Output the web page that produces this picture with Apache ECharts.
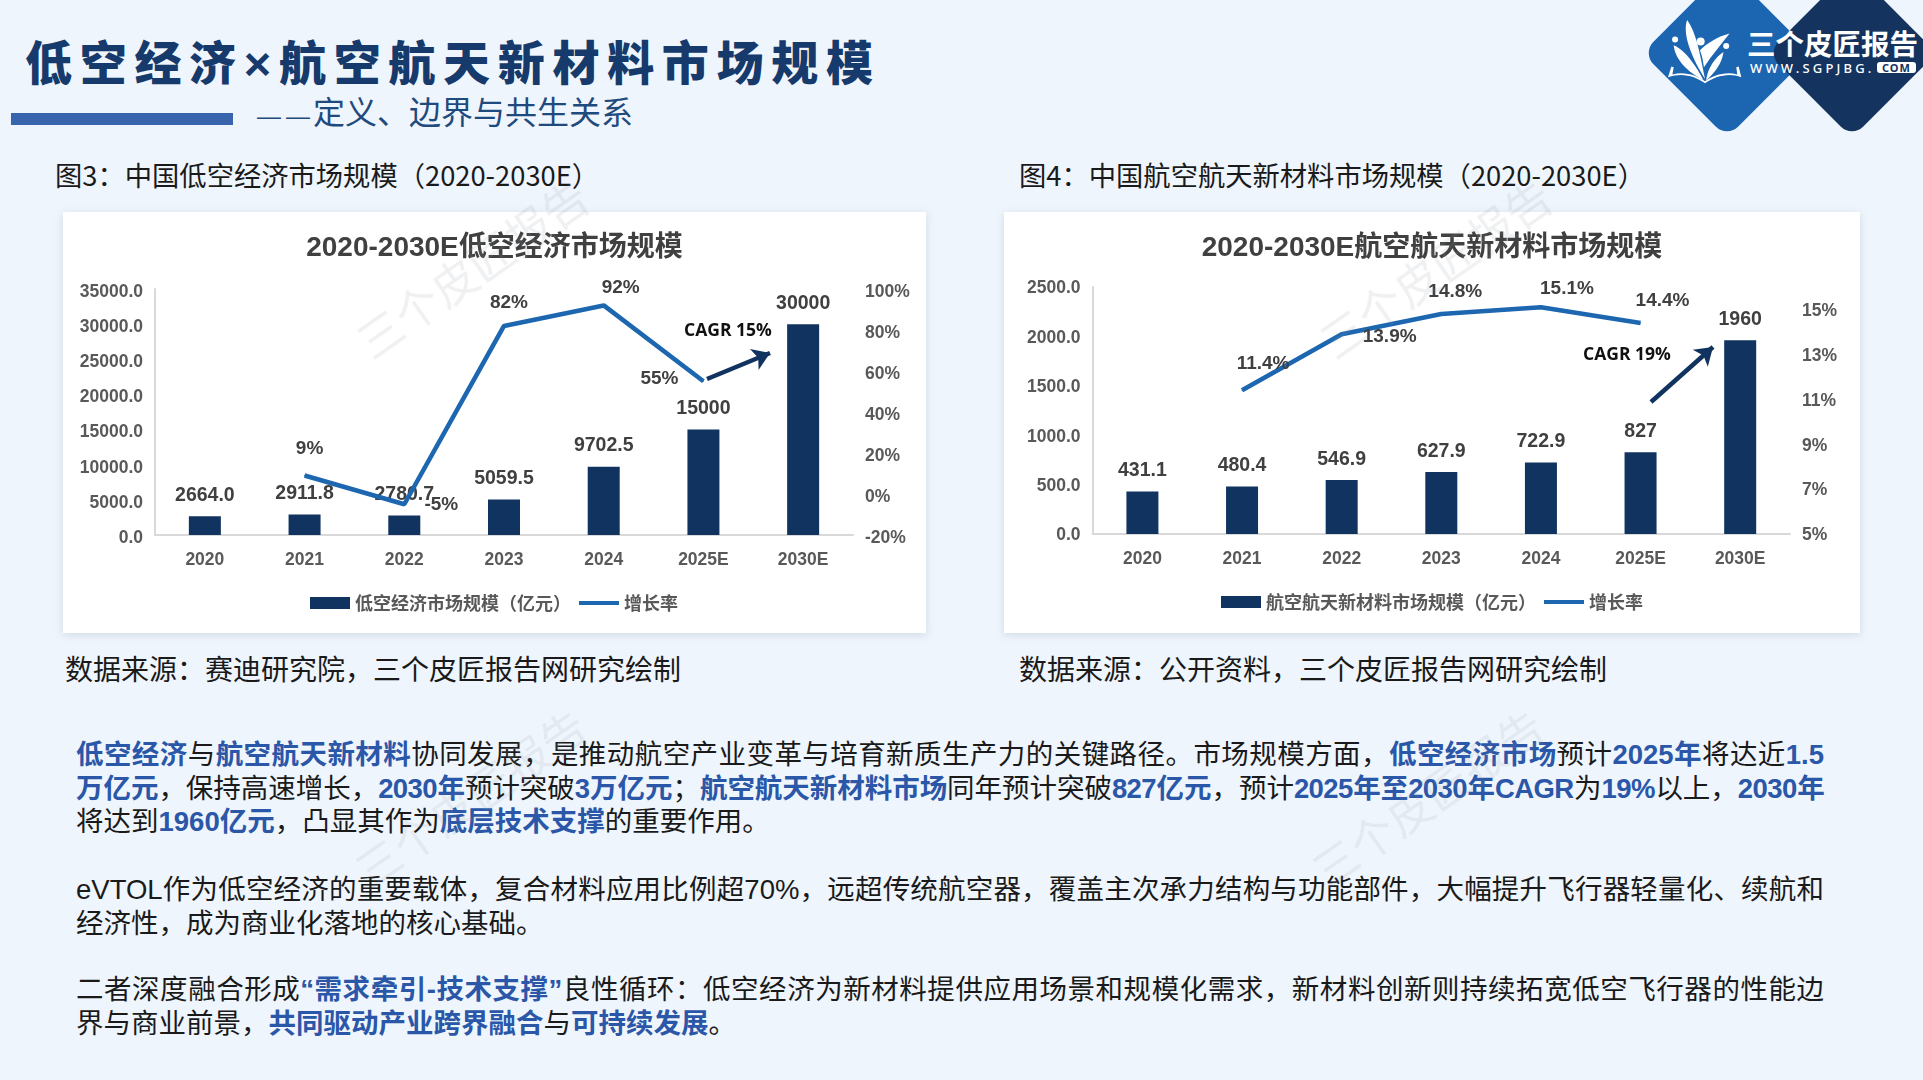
<!DOCTYPE html>
<html lang="zh-CN">
<head>
<meta charset="utf-8">
<title>低空经济×航空航天新材料市场规模</title>
<script src="https://cdn.jsdelivr.net/npm/echarts@6/dist/echarts.min.js"></script>
<style>
  html, body { margin: 0; padding: 0; }
  body { width: 1923px; height: 1080px; position: relative; overflow: hidden; background: #eff5fc; font-family: "Noto Sans CJK SC", sans-serif; color: #1a1a1a; }
  .abs { position: absolute; white-space: nowrap; }
  #heading { left: 25px; top: 29px; font-family: "Liberation Sans", "Noto Sans CJK SC", sans-serif; font-size: 47px; line-height: 70px; font-weight: 900; letter-spacing: 7.7px; color: #163a6b; }
  #subheading { left: 257px; top: 88px; font-size: 32px; line-height: 44px; color: #1f4a7d; }
  #subheading span { font-family: "Liberation Sans", sans-serif; font-size: 24px; letter-spacing: 5px; margin-right: -2px; }
  #rule { left: 11px; top: 113px; width: 222px; height: 12px; background: #3864ae; }
  .caption { top: 155px; font-size: 27.3px; line-height: 38px; }
  .source { top: 648px; font-size: 28px; line-height: 40px; }
  .card { position: absolute; top: 212px; height: 421px; background: #fff; box-shadow: 0 2px 8px rgba(120, 140, 170, .25); }
  .line { left: 76px; font-family: "Liberation Sans", "Noto Sans CJK SC", sans-serif; font-size: 27.5px; line-height: 34px; }
  .full { width: 1748px; white-space: normal; text-align: justify; text-align-last: justify; height: 34px; }
  .tight { letter-spacing: -0.6px; }
  .line b { color: #2b57a8; font-weight: 700; }
  .mark { font-size: 45px; line-height: 60px; color: rgba(140, 150, 165, .14); transform: translate(-50%, -50%) rotate(-35deg); pointer-events: none; z-index: 5; }
  .diamond { position: absolute; top: -7px; width: 120px; height: 120px; border-radius: 16px; transform: rotate(45deg); }
  #logo { position: absolute; left: 1600px; top: 0; width: 323px; height: 150px; overflow: hidden; }
  #logo .abs { color: #fff; }
</style>
</head>
<body>

<div class="abs" id="heading">低空经济×航空航天新材料市场规模</div>
<div class="abs" id="rule"></div>
<div class="abs" id="subheading"><span>——</span>定义、边界与共生关系</div>

<div id="logo">
  <div class="diamond" style="left:67px;background:#1c66b1"></div>
  <div class="diamond" style="left:192px;background:#14335f"></div>
  <svg class="abs" style="left:68px;top:20px" width="74" height="64" viewBox="205 60 220 190" fill="#fff">
    <path d="M262 60C250 90 262 150 315 235C300 160 290 100 262 60Z"/>
    <path d="M222 135C225 175 262 215 310 238C290 200 258 150 222 135Z"/>
    <path d="M388 100C350 110 320 130 300 150C308 170 310 190 312 200C335 165 365 130 388 100Z"/>
    <path d="M370 155C345 170 322 205 318 240C345 215 365 190 370 155Z"/>
    <circle cx="226" cy="118" r="9"/><circle cx="302" cy="124" r="12"/><circle cx="378" cy="137" r="9"/>
    <path d="M205 230C250 215 285 228 315 248C345 228 385 215 423 230L415 198L408 200L411 222C375 212 340 225 315 242C290 225 255 212 218 222L222 200L215 198Z"/>
  </svg>
  <div class="abs" style="left:147px;top:22px;font-size:28.5px;line-height:42px;font-weight:700;letter-spacing:0">三个皮匠报告</div>
  <div class="abs" style="left:150px;top:59px;font-size:13px;line-height:18px;font-weight:500;letter-spacing:3.2px;font-family:'Noto Sans',sans-serif">WWW.SGPJBG.</div>
  <div class="abs" style="left:277px;top:62px;width:39px;height:11px;line-height:11px;background:#fff;border-radius:3px;text-align:center;font-size:11px;font-weight:700;letter-spacing:1px;color:#14335f;font-family:'Noto Sans',sans-serif">COM</div>
</div>

<div class="abs caption" style="left:55px">图3：中国低空经济市场规模（2020-2030E）</div>
<div class="abs caption" style="left:1019px">图4：中国航空航天新材料市场规模（2020-2030E）</div>

<div class="card" id="chartEconomy" style="left:63px;width:863px"></div>
<div class="card" id="chartMaterial" style="left:1004px;width:856px"></div>

<div class="abs source" style="left:65px">数据来源：赛迪研究院，三个皮匠报告网研究绘制</div>
<div class="abs source" style="left:1019px">数据来源：公开资料，三个皮匠报告网研究绘制</div>

<div class="abs line full" style="top:738px"><b>低空经济</b>与<b>航空航天新材料</b>协同发展，是推动航空产业变革与培育新质生产力的关键路径。市场规模方面，<b>低空经济市场</b>预计<b>2025年</b>将达近<b>1.5</b></div>
<div class="abs line full tight" style="top:772px"><b>万亿元</b>，保持高速增长，<b>2030年</b>预计突破<b>3万亿元</b>；<b>航空航天新材料市场</b>同年预计突破<b>827亿元</b>，预计<b>2025年至2030年CAGR</b>为<b>19%</b>以上，<b>2030年</b></div>
<div class="abs line" style="top:805px">将达到<b>1960亿元</b>，凸显其作为<b>底层技术支撑</b>的重要作用。</div>
<div class="abs line full" style="top:873px">eVTOL作为低空经济的重要载体，复合材料应用比例超70%，远超传统航空器，覆盖主次承力结构与功能部件，大幅提升飞行器轻量化、续航和</div>
<div class="abs line" style="top:907px">经济性，成为商业化落地的核心基础。</div>
<div class="abs line full" style="top:973px">二者深度融合形成<b>“需求牵引-技术支撑”</b>良性循环：低空经济为新材料提供应用场景和规模化需求，新材料创新则持续拓宽低空飞行器的性能边</div>
<div class="abs line" style="top:1007px">界与商业前景，<b>共同驱动产业跨界融合</b>与<b>可持续发展</b>。</div>

<div class="abs mark" style="left:472px;top:268px">三个皮匠报告</div>
<div class="abs mark" style="left:1435px;top:268px">三个皮匠报告</div>
<div class="abs mark" style="left:470px;top:797px">三个皮匠报告</div>
<div class="abs mark" style="left:1427px;top:797px">三个皮匠报告</div>

<script>
var years = ['2020', '2021', '2022', '2023', '2024', '2025E', '2030E']

var economyValues = [2664.0, 2911.8, 2780.7, 5059.5, 9702.5, 15000, 30000]
var economyValueLabels = ['2664.0', '2911.8', '2780.7', '5059.5', '9702.5', '15000', '30000']
var economyGrowth = [null, 9, -5, 82, 92, 55, null]
var economyGrowthOffsets = [null, [5, -27], [37, 1], [5, -23], [17, -18], [-44, -2], null]

var materialValues = [431.1, 480.4, 546.9, 627.9, 722.9, 827, 1960]
var materialValueLabels = ['431.1', '480.4', '546.9', '627.9', '722.9', '827', '1960']
var materialGrowth = [null, 11.4, 13.9, 14.8, 15.1, 14.4, null]
var materialGrowthOffsets = [null, [21, -27], [48, 3], [14, -22], [26, -18], [22, -22], null]

var LATIN = '"Liberation Sans", "Noto Sans CJK SC", sans-serif'
var AXIS_COLOR = '#d9d9d9'
var TICK_COLOR = '#595959'
var LABEL_COLOR = '#404040'

function makeChart(id, conf) {
  var chart = echarts.init(document.getElementById(id))
  var axisLabel = { fontFamily: LATIN, fontWeight: 'bold', fontSize: 17.5, color: TICK_COLOR }
  // top-aligned with a tiny line box: nudges the value labels down a little off the tick
  var valueLabel = Object.assign({ margin: 12, verticalAlign: 'top', lineHeight: conf.tickShift }, axisLabel)

  chart.setOption({
    animation: false,
    backgroundColor: 'transparent',
    textStyle: { fontFamily: LATIN },
    title: {
      text: conf.title,
      left: 'center',
      top: 17,
      textStyle: { fontFamily: LATIN, fontSize: 28, fontWeight: 'bold', color: LABEL_COLOR }
    },
    legend: {
      left: conf.legendLeft,
      top: conf.legendTop,
      itemWidth: 40,
      itemHeight: 12,
      itemGap: 6,
      textStyle: { fontFamily: '"Noto Sans CJK SC", sans-serif', fontSize: 18, fontWeight: 'bold', color: TICK_COLOR },
      data: [
        { name: conf.barName, icon: 'rect' },
        { name: '增长率', itemStyle: { opacity: 0 }, lineStyle: { width: 4, color: '#1c67b0' } }
      ]
    },
    grid: conf.grid,
    xAxis: {
      type: 'category',
      data: years,
      axisLine: { lineStyle: { color: AXIS_COLOR, width: 2 } },
      axisTick: { show: false },
      axisLabel: Object.assign({ margin: 16 }, axisLabel)
    },
    yAxis: [
      {
        type: 'value',
        min: 0,
        max: conf.leftMax,
        interval: conf.leftInterval,
        splitLine: { show: false },
        axisTick: { show: false },
        axisLine: { show: true, lineStyle: { color: AXIS_COLOR, width: 2 } },
        axisLabel: Object.assign({ formatter: function (v) { return v.toFixed(1) } }, valueLabel)
      },
      {
        type: 'value',
        min: conf.rightMin,
        max: conf.rightMax,
        interval: conf.rightInterval,
        splitLine: { show: false },
        axisTick: { show: false },
        axisLine: { show: false },
        axisLabel: Object.assign({ formatter: '{value}%', showMaxLabel: conf.rightShowMax }, valueLabel)
      }
    ],
    series: [
      {
        name: conf.barName,
        type: 'bar',
        barWidth: 32,
        itemStyle: { color: '#10335f' },
        data: conf.values,
        label: {
          show: true,
          position: 'top',
          distance: 11,
          fontFamily: LATIN,
          fontWeight: 'bold',
          fontSize: 19.5,
          color: LABEL_COLOR,
          formatter: function (p) { return conf.valueLabels[p.dataIndex] }
        },
        markLine: {
          silent: true,
          symbol: ['none', 'arrow'],
          symbolSize: 17,
          label: { show: false },
          lineStyle: { color: '#10335f', width: 4.5, type: 'solid' },
          data: [[{ x: conf.arrow[0], y: conf.arrow[1] }, { x: conf.arrow[2], y: conf.arrow[3] }]]
        }
      },
      {
        name: '增长率',
        type: 'line',
        yAxisIndex: 1,
        symbol: 'circle',
        symbolSize: 1,
        connectNulls: false,
        z: 3,
        lineStyle: { color: '#1c67b0', width: 4.6 },
        itemStyle: { color: '#1c67b0' },
        data: conf.growth.map(function (v, i) {
          if (v === null) return null
          return {
            value: v,
            label: {
              show: true,
              position: 'inside',
              offset: conf.growthOffsets[i],
              fontFamily: LATIN,
              fontWeight: 'bold',
              fontSize: 19,
              color: LABEL_COLOR,
              formatter: '{c}%'
            }
          }
        })
      }
    ],
    graphic: [{
      type: 'text',
      x: conf.cagrPos[0],
      y: conf.cagrPos[1],
      style: {
        text: conf.cagr,
        align: 'center',
        verticalAlign: 'middle',
        fontFamily: '"Open Sans", sans-serif',
        fontWeight: 'bold',
        fontSize: 17.5,
        fill: '#111'
      }
    }]
  })
  return chart
}

makeChart('chartEconomy', {
  title: '2020-2030E低空经济市场规模',
  barName: '低空经济市场规模（亿元）',
  values: economyValues,
  valueLabels: economyValueLabels,
  growth: economyGrowth,
  growthOffsets: economyGrowthOffsets,
  grid: { left: 92, right: 73, top: 77, bottom: 98 },
  tickShift: 6,
  leftMax: 35000,
  leftInterval: 5000,
  rightMin: -20,
  rightMax: 100,
  rightInterval: 20,
  rightShowMax: true,
  legendLeft: 242,
  legendTop: 377,
  arrow: [644, 167, 707, 141],
  cagr: 'CAGR 15%',
  cagrPos: [665, 119]
})

makeChart('chartMaterial', {
  title: '2020-2030E航空航天新材料市场规模',
  barName: '航空航天新材料市场规模（亿元）',
  values: materialValues,
  valueLabels: materialValueLabels,
  growth: materialGrowth,
  growthOffsets: materialGrowthOffsets,
  grid: { left: 88.6, right: 70, top: 75, bottom: 99 },
  tickShift: 3,
  leftMax: 2500,
  leftInterval: 500,
  rightMin: 5,
  rightMax: 16,
  rightInterval: 2,
  rightShowMax: false,
  legendLeft: 212,
  legendTop: 376,
  arrow: [647, 190, 709, 135],
  cagr: 'CAGR 19%',
  cagrPos: [623, 143]
})
</script>
</body>
</html>
